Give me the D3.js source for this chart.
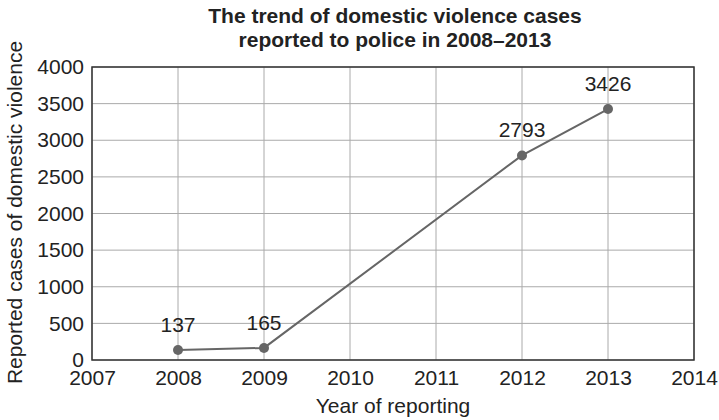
<!DOCTYPE html>
<html>
<head>
<meta charset="utf-8">
<script src="https://cdn.jsdelivr.net/npm/d3@7"></script>
<style>
  body { margin: 0; background: #fff; }
  text { font-family: "Liberation Sans", Arial, Helvetica, sans-serif; fill: #222; }
</style>
</head>
<body>
<svg id="chart" width="719" height="420"></svg>
<script>
// data
const years = [2008, 2009, 2012, 2013];
const cases = [137, 165, 2793, 3426];
const xTicks = [2007, 2008, 2009, 2010, 2011, 2012, 2013, 2014];
const yTicks = [0, 500, 1000, 1500, 2000, 2500, 3000, 3500, 4000];

const titleLines = ["The trend of domestic violence cases", "reported to police in 2008\u20132013"];
const xTitle = "Year of reporting";
const yTitle = "Reported cases of domestic violence";

const width = 719, height = 420;
const margin = { top: 67, right: 25, bottom: 60, left: 92 };
const svg = d3.select("#chart");

const x = d3.scaleLinear().domain([2007, 2014]).range([margin.left, width - margin.right]);
const y = d3.scaleLinear().domain([0, 4000]).range([height - margin.bottom, margin.top]);

// grid
svg.append("g")
    .selectAll("line.v")
    .data(xTicks)
    .join("line")
    .attr("x1", d => x(d)).attr("x2", d => x(d))
    .attr("y1", y(0)).attr("y2", y(4000))
    .attr("stroke", "#aaa").attr("stroke-width", 1);

svg.append("g")
    .selectAll("line.h")
    .data(yTicks)
    .join("line")
    .attr("x1", x(2007)).attr("x2", x(2014))
    .attr("y1", d => y(d)).attr("y2", d => y(d))
    .attr("stroke", "#aaa").attr("stroke-width", 1);

// frame
svg.append("rect")
    .attr("x", x(2007)).attr("y", y(4000))
    .attr("width", x(2014) - x(2007)).attr("height", y(0) - y(4000))
    .attr("fill", "none").attr("stroke", "#333").attr("stroke-width", 1.5);

// axes
const xAxis = svg.append("g")
    .attr("transform", `translate(0,${y(0)})`)
    .call(d3.axisBottom(x).tickValues(xTicks).tickFormat(d3.format("d")).tickSize(0).tickPadding(10));
const yAxis = svg.append("g")
    .attr("transform", `translate(${x(2007)},0)`)
    .call(d3.axisLeft(y).tickValues(yTicks).tickFormat(d3.format("d")).tickSize(0).tickPadding(8));

[xAxis, yAxis].forEach(g => {
    g.select(".domain").remove();
    g.selectAll("text")
        .style("font-size", "21px")
        .style("font-family", "'Liberation Sans', Arial, sans-serif")
        .attr("fill", "#222");
});

// line + points
const pts = years.map((d, i) => [d, cases[i]]);
svg.append("path")
    .datum(pts)
    .attr("fill", "none")
    .attr("stroke", "#666")
    .attr("stroke-width", 2)
    .attr("d", d3.line().x(d => x(d[0])).y(d => y(d[1])));

svg.append("g")
    .selectAll("circle")
    .data(pts)
    .join("circle")
    .attr("cx", d => x(d[0]))
    .attr("cy", d => y(d[1]))
    .attr("r", 5)
    .attr("fill", "#666");

svg.append("g")
    .selectAll("text")
    .data(pts)
    .join("text")
    .attr("x", d => x(d[0]))
    .attr("y", d => y(d[1]) - 18)
    .attr("text-anchor", "middle")
    .style("font-size", "21px")
    .text(d => d[1]);

// titles
svg.append("text")
    .attr("x", 395).attr("y", 23)
    .attr("text-anchor", "middle")
    .style("font-size", "21px").style("font-weight", "bold")
    .selectAll("tspan")
    .data(titleLines)
    .join("tspan")
    .attr("x", 395)
    .attr("dy", (d, i) => i ? 24 : 0)
    .text(d => d);

svg.append("text")
    .attr("x", (x(2007) + x(2014)) / 2).attr("y", 413)
    .attr("text-anchor", "middle")
    .style("font-size", "21px")
    .text(xTitle);

svg.append("text")
    .attr("transform", `translate(22,${(y(0) + y(4000)) / 2 - 1}) rotate(-90)`)
    .attr("text-anchor", "middle")
    .style("font-size", "21px")
    .text(yTitle);
</script>
</body>
</html>
